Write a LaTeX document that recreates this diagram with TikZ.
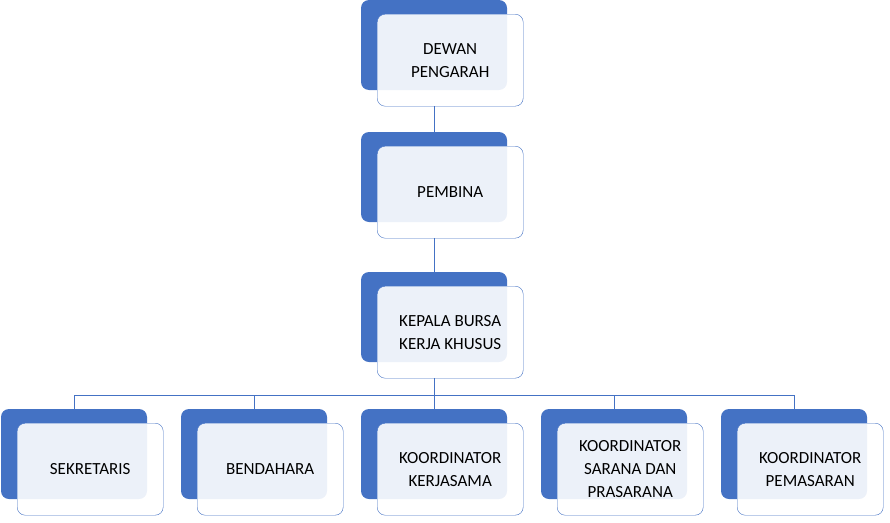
\documentclass[tikz,border=0pt]{standalone}
\usepackage{fontspec}
\setmainfont{Carlito}
\usepackage{tikz}

\definecolor{orgblue}{RGB}{68,114,196}

\tikzset{
  backbox/.style={fill=orgblue, rounded corners=8pt},
  frontbox/.style={draw=orgblue, fill=white, fill opacity=0.9, text opacity=1,
    rounded corners=8pt, minimum width=146pt, minimum height=92pt,
    align=center, font=\fontsize{17}{23}\selectfont, inner sep=2pt},
  link/.style={draw=orgblue, line width=0.7pt}
}

\newcommand{\orgunit}[4]{% name, x, y, text
  \fill [backbox] (#2,#3) rectangle ++(146,90);
  \coordinate (#1top) at (#2+73,#3);
  \node [frontbox, anchor=north west] (#1) at (#2+16,#3+14) {#4};
}

\begin{document}
\begin{tikzpicture}[x=1pt,y=-1pt]
\useasboundingbox (0,0) rectangle (890,522);

% top chain
\orgunit{dewan}{361}{0}{DEWAN\\PENGARAH}
\orgunit{pembina}{361}{132}{PEMBINA}
\orgunit{kepala}{361}{272}{KEPALA BURSA\\KERJA KHUSUS}

% bottom row
\orgunit{sekretaris}{1}{409}{SEKRETARIS}
\orgunit{bendahara}{181}{409}{BENDAHARA}
\orgunit{kerjasama}{361}{409}{KOORDINATOR\\KERJASAMA}
\orgunit{sarana}{541}{409}{KOORDINATOR\\SARANA DAN\\PRASARANA}
\orgunit{pemasaran}{721}{409}{KOORDINATOR\\PEMASARAN}

% connectors
\coordinate (bus) at (434,395);
\draw [link] (dewan.south -| pembinatop) -- (pembinatop);
\draw [link] (pembina.south -| kepalatop) -- (kepalatop);
\draw [link] (kepala.south -| kerjasamatop) -- (kerjasamatop);
\foreach \n in {sekretaris,bendahara,sarana,pemasaran}
  \draw [link] (\n top) -- (\n top |- bus) -- (bus);

\end{tikzpicture}
\end{document}
